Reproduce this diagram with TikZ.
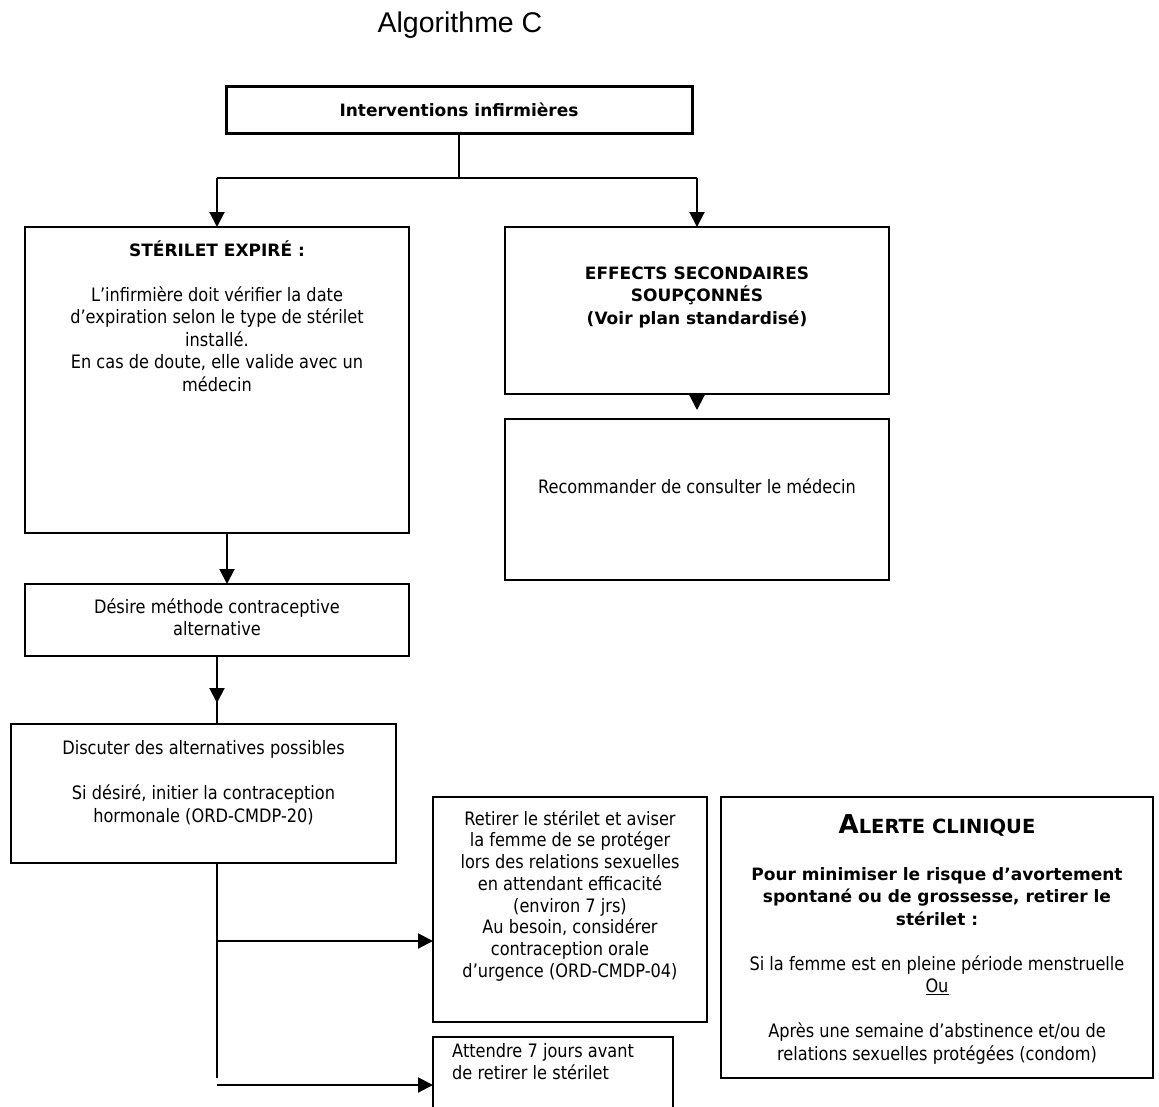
\documentclass[tikz,border=0pt]{standalone}
\usepackage{fontspec}
\setmainfont{DejaVu Sans}[FakeStretch=0.875, BoldFeatures={FakeStretch=1.0}]
\newfontfamily\titlefont{Liberation Sans}
\usetikzlibrary{arrows.meta}
\newcommand{\firstup}{\rule{0pt}{18pt}}
\newcommand{\normtext}{\fontsize{18.5pt}{22.5pt}\selectfont}
\newcommand{\boldtext}{\fontsize{17pt}{22.5pt}\selectfont\bfseries}
\begin{document}
\begin{tikzpicture}[x=1pt,y=-1pt,
  box/.style={draw, line width=2pt, rectangle, inner sep=0pt, outer sep=0pt, anchor=north west},
  txt/.style={anchor=north, inner sep=0pt, align=center, font=\normtext},
  btxt/.style={anchor=north, inner sep=0pt, align=center, font=\boldtext},
  line/.style={line width=2pt},
  arr/.style={line width=2pt, -{Triangle[width=15pt,length=15pt]}}]
\useasboundingbox (0,0) rectangle (1159,1106);
\clip (0,0) rectangle (1159,1106);

% title
\node[anchor=base, inner sep=0pt] (title) at (460,32) {\titlefont\fontsize{28.5pt}{30pt}\selectfont Algorithme C};

% boxes
\node[box, line width=3pt, minimum width=466pt, minimum height=47pt] (top) at (226,86) {};
\node[box, minimum width=384pt, minimum height=306pt] (exp) at (25,227) {};
\node[box, minimum width=384pt, minimum height=167pt] (eff) at (505,227) {};
\node[box, minimum width=384pt, minimum height=161pt] (rec) at (505,419) {};
\node[box, minimum width=384pt, minimum height=72pt] (des) at (25,584) {};
\node[box, minimum width=385pt, minimum height=139pt] (disc) at (11,724) {};
\node[box, minimum width=274pt, minimum height=225pt] (ret) at (433,797) {};
\node[box, minimum width=240pt, minimum height=90pt] (att) at (433,1037) {};
\node[box, minimum width=432pt, minimum height=281pt] (alert) at (721,797) {};

% texts
\node[btxt] (ttop) at (459,98) {\firstup Interventions infirmières};
\node[txt] (texp) at (217,238) {\firstup{\boldtext STÉRILET EXPIRÉ :}\\[22.5pt]
  L’infirmière doit vérifier la date\\ d’expiration selon le type de stérilet\\ installé.\\
  En cas de doute, elle valide avec un\\ médecin};
\node[btxt] (teff) at (697,261) {\firstup EFFECTS SECONDAIRES\\ SOUPÇONNÉS\\ (Voir plan standardisé)};
\node[txt] (trec) at (697,475) {\firstup Recommander de consulter le médecin};
\node[txt] (tdes) at (217,595) {\firstup Désire méthode contraceptive\\ alternative};
\node[txt] (tdisc) at (203.5,736) {\firstup Discuter des alternatives possibles\\[23pt]
  Si désiré, initier la contraception\\ hormonale (ORD-CMDP-20)};
\node[txt, font=\fontsize{18.5pt}{21.7pt}\selectfont] (tret) at (570,807) {\firstup Retirer le stérilet et aviser\\
  la femme de se protéger\\ lors des relations sexuelles\\ en attendant efficacité\\
  (environ 7 jrs)\\ Au besoin, considérer\\ contraception orale\\ d’urgence (ORD-CMDP-04)};
\node[txt, anchor=north west, align=left] (tatt) at (452,1039) {\firstup Attendre 7 jours avant\\ de retirer le stérilet};
\node[anchor=north, inner sep=0pt] (talert) at (937,807) {\rule{0pt}{26pt}{\bfseries\fontsize{26pt}{28pt}\selectfont A}{\bfseries\fontsize{19.5pt}{28pt}\selectfont LERTE CLINIQUE}};
\node[btxt] (tpour) at (937,862) {\firstup Pour minimiser le risque d’avortement\\
  spontané ou de grossesse, retirer le\\ stérilet :};
\node[txt] (tsi) at (937,952) {\firstup Si la femme est en pleine période menstruelle\\ \underline{Ou}\\[22.5pt]
  Après une semaine d’abstinence et/ou de\\ relations sexuelles protégées (condom)};

% connectors
\coordinate (jl) at (217,178);
\coordinate (jr) at (697,178);
\draw[line] (top.south) -- (top.south |- jl);
\draw[line] (jl) -- (jr);
\draw[arr] (jl) -- (exp.north);
\draw[arr] (jr) -- (eff.north);
\draw[arr] (eff.south) -- ([yshift=9pt]rec.north);
\draw[arr] ([xshift=10pt]exp.south) -- ([xshift=10pt]exp.south |- des.north);
\draw[line] (des.south) -- (des.south |- disc.north);
\draw[arr] (des.south) -- ++(0,47);
\coordinate (ds) at (217,863);
\coordinate (a1) at (217,941);
\coordinate (a2) at (217,1085);
\draw[line] (ds) -- (217,1078);
\draw[arr] (a1) -- (ret.west |- a1);
\draw[arr] (a2) -- (att.west |- a2);
\end{tikzpicture}
\end{document}
